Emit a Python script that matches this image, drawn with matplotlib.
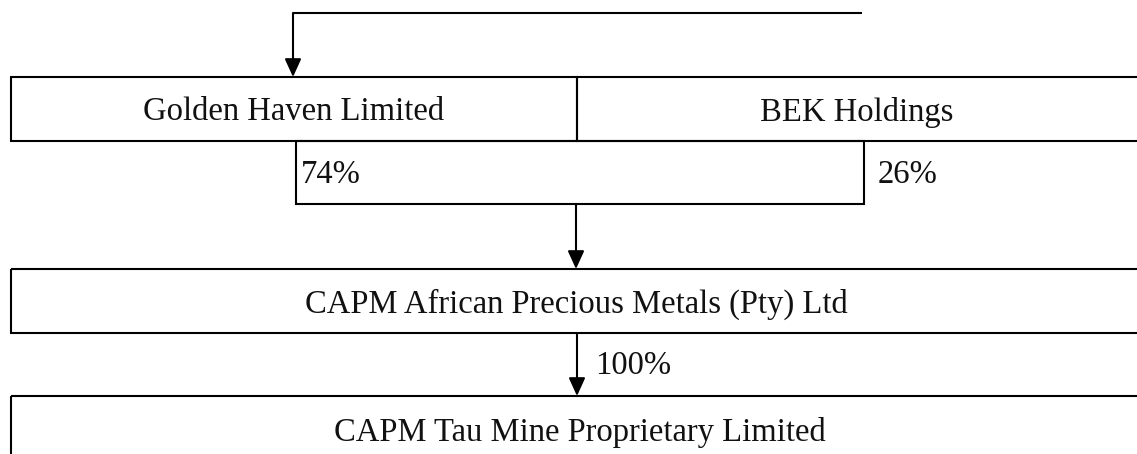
import matplotlib
matplotlib.use("Agg")
import matplotlib.pyplot as plt
from matplotlib.patches import Rectangle, FancyArrowPatch

# ownership chart content
parents = ["Golden Haven Limited", "BEK Holdings"]
parent_shares = ["74%", "26%"]
middle = "CAPM African Precious Metals (Pty) Ltd"
middle_share = "100%"
bottom = "CAPM Tau Mine Proprietary Limited"

W, H = 1137, 454
LW = 1.5
FONT = "Liberation Serif"

fig = plt.figure(figsize=(W / 100, H / 100), dpi=100)
ax = fig.add_axes([0, 0, 1, 1])
ax.set_xlim(0, W)
ax.set_ylim(H, 0)
ax.axis("off")


def box(x0, y0, x1, y1):
    ax.add_patch(Rectangle((x0, y0), x1 - x0, y1 - y0, fill=False,
                           edgecolor="black", linewidth=LW, clip_on=False))


def arrow(x, y0, y1):
    ax.add_patch(FancyArrowPatch((x, y0), (x, y1),
                                 arrowstyle="-|>,head_length=1.1,head_width=0.5",
                                 mutation_scale=10, color="black", linewidth=LW,
                                 shrinkA=0, shrinkB=0))


def label(x, y, s, ha="center"):
    ax.text(x, y, s, ha=ha, va="center", fontsize=23.5, family=FONT,
            color="#111111")


# top connector line and arrow into first row
ax.plot([293, 862], [13, 13], color="black", linewidth=LW,
        solid_capstyle="butt")
arrow(293, 13, 77)

# parents row
box(11, 77, 577, 141)
box(577, 77, 1160, 141)
label(294, 112, parents[0])
label(857, 112, parents[1])

# share row
box(296, 141, 864, 204)
label(301, 175, parent_shares[0], ha="left")
label(878, 175, parent_shares[1], ha="left")

arrow(576, 204, 269)

box(11, 269, 1160, 333)
label(576, 304, middle)

arrow(577, 333, 396)
label(595, 366, middle_share, ha="left")

box(11, 396, 1160, 480)
label(580, 432, bottom)

fig.savefig("out.png", dpi=100)
plt.close(fig)
